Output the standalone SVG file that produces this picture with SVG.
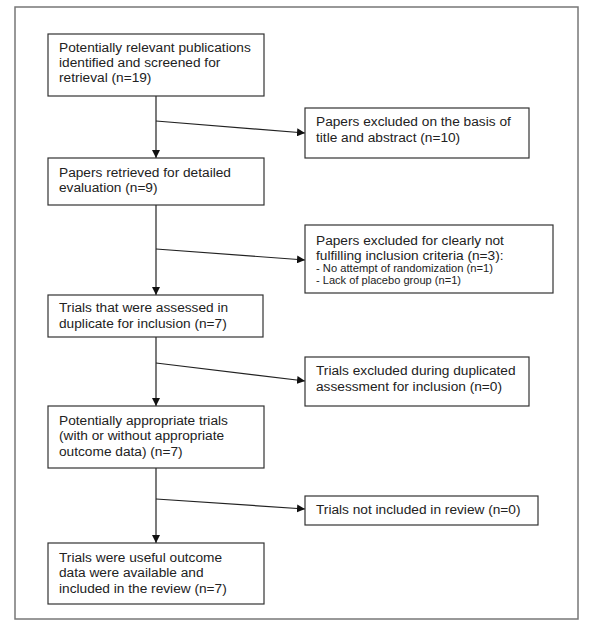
<svg xmlns="http://www.w3.org/2000/svg" width="600" height="629" viewBox="0 0 600 629">
<style>
.box{fill:#fff;stroke:#333;stroke-width:1.2}
.t{font-family:"Liberation Sans",Arial,sans-serif;font-size:13.7px;fill:#222}
.s{font-family:"Liberation Sans",Arial,sans-serif;font-size:11.5px;fill:#222}
.c{stroke:#222;stroke-width:1.2;fill:none}
</style>
<defs>
<marker id="ah" viewBox="0 0 10 10" refX="10" refY="5" markerWidth="8" markerHeight="8" markerUnits="userSpaceOnUse" orient="auto">
<path d="M0,0 L10,5 L0,10 z" fill="#111"/>
</marker>
</defs>
<rect x="0" y="0" width="600" height="629" fill="#fff"/>
<rect x="15" y="7" width="563" height="612" fill="none" stroke="#777" stroke-width="1.5"/>
<g id="connectors">
<line class="c" x1="156" y1="96" x2="156" y2="158" marker-end="url(#ah)"/>
<line class="c" x1="156" y1="121" x2="305" y2="133" marker-end="url(#ah)"/>
<line class="c" x1="156" y1="205" x2="156" y2="295" marker-end="url(#ah)"/>
<line class="c" x1="156" y1="249" x2="305" y2="260" marker-end="url(#ah)"/>
<line class="c" x1="156" y1="337" x2="156" y2="406" marker-end="url(#ah)"/>
<line class="c" x1="156" y1="363" x2="305" y2="381" marker-end="url(#ah)"/>
<line class="c" x1="156" y1="468" x2="156" y2="543" marker-end="url(#ah)"/>
<line class="c" x1="156" y1="499" x2="305" y2="509" marker-end="url(#ah)"/>
</g>
<g id="n1">
<rect class="box" x="48" y="34" width="216" height="62"/>
<text class="t" x="59" y="52">Potentially relevant publications</text>
<text class="t" x="59" y="67">identified and screened for</text>
<text class="t" x="59" y="82">retrieval (n=19)</text>
</g>
<g id="n2">
<rect class="box" x="48" y="158" width="216" height="47"/>
<text class="t" x="59" y="177">Papers retrieved for detailed</text>
<text class="t" x="59" y="192">evaluation (n=9)</text>
</g>
<g id="n3">
<rect class="box" x="48" y="295" width="215" height="42"/>
<text class="t" x="59" y="312">Trials that were assessed in</text>
<text class="t" x="59" y="328">duplicate for inclusion (n=7)</text>
</g>
<g id="n4">
<rect class="box" x="48" y="406" width="216" height="62"/>
<text class="t" x="59" y="425">Potentially appropriate trials</text>
<text class="t" x="59" y="440">(with or without appropriate</text>
<text class="t" x="59" y="456">outcome data) (n=7)</text>
</g>
<g id="n5">
<rect class="box" x="48" y="543" width="216" height="61"/>
<text class="t" x="59" y="562">Trials were useful outcome</text>
<text class="t" x="59" y="577">data were available and</text>
<text class="t" x="59" y="593">included in the review (n=7)</text>
</g>
<g id="e1">
<rect class="box" x="305" y="108" width="224" height="50"/>
<text class="t" x="316" y="126">Papers excluded on the basis of</text>
<text class="t" x="316" y="142">title and abstract (n=10)</text>
</g>
<g id="e2">
<rect class="box" x="305" y="225" width="248" height="68"/>
<text class="t" x="316" y="245">Papers excluded for clearly not</text>
<text class="t" x="316" y="260">fulfilling inclusion criteria (n=3):</text>
<text class="s" x="316" y="272" textLength="177" lengthAdjust="spacingAndGlyphs">- No attempt of randomization (n=1)</text>
<text class="s" x="316" y="284" textLength="145" lengthAdjust="spacingAndGlyphs">- Lack of placebo group (n=1)</text>
</g>
<g id="e3">
<rect class="box" x="305" y="357" width="224" height="49"/>
<text class="t" x="316" y="375">Trials excluded during duplicated</text>
<text class="t" x="316" y="391">assessment for inclusion (n=0)</text>
</g>
<g id="e4">
<rect class="box" x="305" y="496" width="233" height="29"/>
<text class="t" x="316" y="514">Trials not included in review (n=0)</text>
</g>
</svg>
